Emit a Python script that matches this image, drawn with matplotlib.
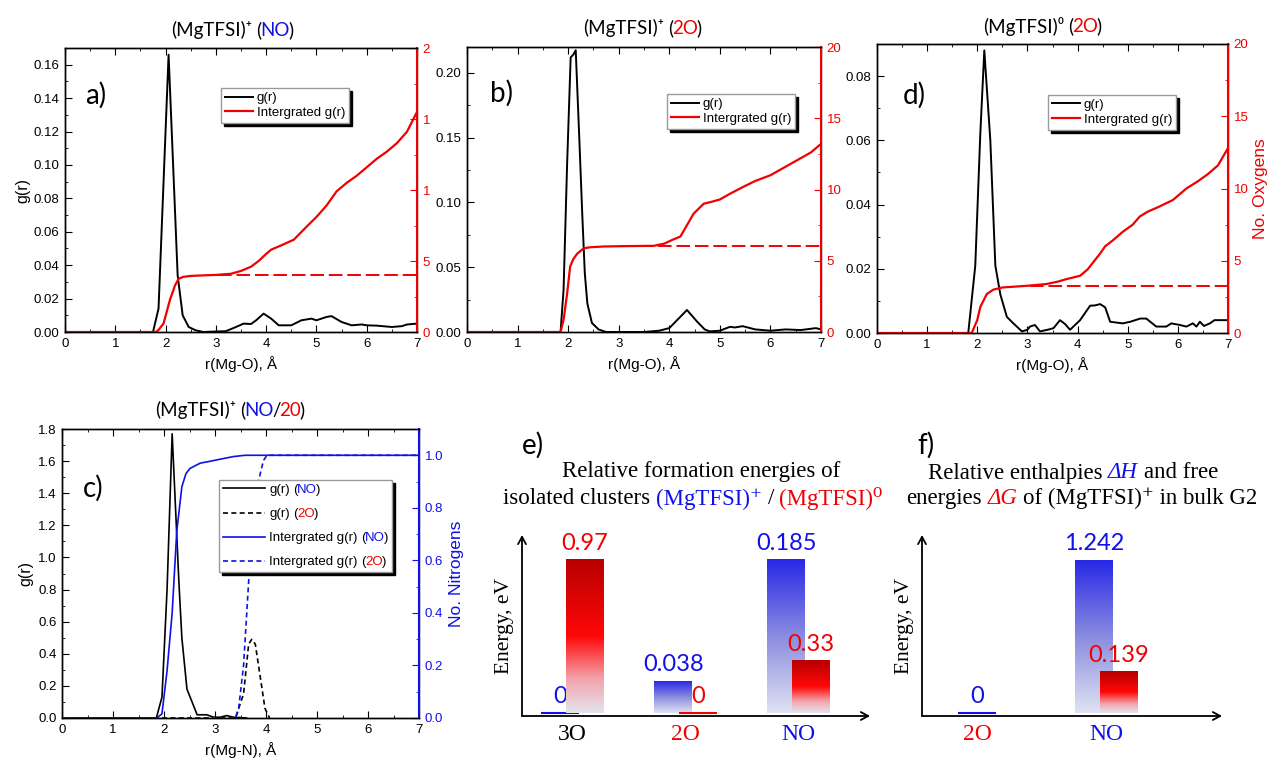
import numpy as np
import matplotlib.pyplot as plt
import matplotlib as mpl
from matplotlib.colors import LinearSegmentedColormap
from matplotlib.patches import Rectangle
from matplotlib.ticker import MultipleLocator, FormatStrFormatter
from matplotlib.offsetbox import TextArea, HPacker, AnnotationBbox

mpl.rcParams['font.family'] = 'Liberation Sans'
mpl.rcParams['font.size'] = 9.5
mpl.rcParams['axes.linewidth'] = 1.0

RED = '#f00000'
BLUE = '#1010e8'
SANS = ['Lato', 'DejaVu Sans']
SERIF = ['Liberation Serif', 'DejaVu Serif']

# a) (MgTFSI)+ (NO): Mg-O g(r) and running coordination number
a_r = [0, 1.75, 1.86, 2.06, 2.24, 2.34, 2.46, 2.6, 2.75, 3.0, 3.2, 3.4, 3.55, 3.7, 3.8, 3.95,
       4.1, 4.25, 4.5, 4.6, 4.7, 4.9, 5.0, 5.2, 5.3, 5.5, 5.7, 5.9, 6.0, 6.2, 6.5, 6.7, 6.8, 7.0]
a_g = [0, 0, 0.014, 0.166, 0.034, 0.010, 0.003, 0.001, 0.0, 0.0003, 0.0005, 0.003, 0.005, 0.0048,
       0.007, 0.011, 0.008, 0.004, 0.004, 0.0055, 0.007, 0.008, 0.007, 0.009, 0.0095, 0.006, 0.004,
       0.0045, 0.004, 0.0038, 0.003, 0.0035, 0.0045, 0.005]
a_rn = [0, 1.8, 1.85, 1.96, 2.09, 2.19, 2.26, 2.35, 2.5, 2.7, 3.0, 3.3, 3.5, 3.7, 3.85, 4.0, 4.1,
        4.3, 4.55, 4.8, 5.0, 5.2, 5.4, 5.6, 5.8, 6.0, 6.2, 6.4, 6.6, 6.8, 7.0]
a_n = [0, 0, 0.1, 0.6, 2.3, 3.3, 3.75, 3.88, 3.95, 3.98, 4.02, 4.1, 4.3, 4.6, 5.0, 5.5, 5.8,
       6.1, 6.5, 7.4, 8.1, 8.9, 9.9, 10.5, 11.0, 11.6, 12.2, 12.7, 13.3, 14.1, 15.5]
a_plateau = 4.0

# b) (MgTFSI)+ (2O)
b_r = [0, 1.85, 1.91, 1.98, 2.05, 2.1, 2.15, 2.22, 2.28, 2.33, 2.38, 2.47, 2.6, 2.75, 3.5, 3.8,
       4.0, 4.15, 4.35, 4.55, 4.7, 4.8, 5.0, 5.2, 5.3, 5.45, 5.7, 6.0, 6.3, 6.6, 6.9, 7.0]
b_g = [0, 0, 0.033, 0.13, 0.212, 0.214, 0.2175, 0.15, 0.09, 0.045, 0.022, 0.007, 0.002, 0.0, 0.0,
       0.001, 0.003, 0.009, 0.017, 0.008, 0.002, 0.0005, 0.001, 0.004, 0.0035, 0.0045, 0.002,
       0.001, 0.002, 0.0015, 0.003, 0.002]
b_rn = [0, 1.85, 1.91, 1.98, 2.04, 2.1, 2.18, 2.31, 2.45, 2.7, 3.0, 3.7, 3.9, 4.05, 4.22, 4.35,
        4.48, 4.68, 4.85, 5.0, 5.2, 5.47, 5.7, 6.0, 6.3, 6.6, 6.8, 7.0]
b_n = [0, 0, 0.86, 2.7, 4.6, 5.1, 5.5, 5.88, 5.95, 6.0, 6.02, 6.05, 6.2, 6.45, 6.7, 7.5, 8.3,
       9.0, 9.15, 9.3, 9.7, 10.2, 10.6, 11.0, 11.6, 12.2, 12.6, 13.2]
b_plateau = 6.07

# d) (MgTFSI)0 (2O)
d_r = [0, 1.82, 1.96, 2.06, 2.14, 2.26, 2.36, 2.46, 2.59, 2.72, 2.89, 3.0, 3.05, 3.15, 3.25, 3.4,
       3.52, 3.65, 3.75, 3.85, 4.05, 4.25, 4.35, 4.45, 4.55, 4.65, 4.9, 5.05, 5.25, 5.37, 5.57,
       5.77, 5.87, 6.04, 6.17, 6.3, 6.37, 6.44, 6.52, 6.64, 6.73, 7.0]
d_g = [0, 0, 0.021, 0.062, 0.088, 0.06, 0.021, 0.012, 0.005, 0.003, 0.0005, 0.001, 0.002, 0.0025,
       0.0005, 0.001, 0.0015, 0.004, 0.0028, 0.001, 0.004, 0.0085, 0.0086, 0.009, 0.008, 0.0035,
       0.003, 0.0035, 0.0045, 0.0045, 0.002, 0.002, 0.003, 0.0025, 0.002, 0.003, 0.002, 0.0035,
       0.0022, 0.003, 0.004, 0.004]
d_rn = [0, 1.89, 2.0, 2.06, 2.19, 2.32, 2.5, 3.0, 3.38, 3.6, 3.78, 4.05, 4.2, 4.3, 4.45, 4.55,
        4.7, 4.9, 5.1, 5.24, 5.4, 5.6, 5.9, 6.17, 6.4, 6.6, 6.8, 7.0]
d_n = [0, 0, 0.9, 1.8, 2.7, 3.0, 3.15, 3.27, 3.39, 3.55, 3.73, 3.96, 4.4, 4.84, 5.5, 6.0, 6.4,
       7.0, 7.5, 8.06, 8.4, 8.7, 9.2, 10.0, 10.5, 11.0, 11.6, 12.8]
d_plateau = 3.23

# c) (MgTFSI)+ Mg-N for the NO and 2O geometries
c_r_no = [0, 1.85, 1.96, 2.06, 2.16, 2.29, 2.35, 2.45, 2.55, 2.65, 2.84, 2.97, 3.1, 3.23, 3.36, 3.62]
c_g_no = [0, 0, 0.13, 0.8, 1.77, 0.86, 0.5, 0.18, 0.1, 0.02, 0.02, 0.005, 0.005, 0.015, 0.005, 0.0]
c_r_2o = [0, 3.4, 3.56, 3.66, 3.72, 3.79, 3.89, 3.98, 4.07]
c_g_2o = [0, 0, 0.15, 0.46, 0.49, 0.46, 0.25, 0.06, 0.0]
c_rn_no = [0, 1.86, 1.96, 2.06, 2.16, 2.25, 2.35, 2.43, 2.51, 2.71, 2.9, 3.1, 3.36, 3.59, 7.0]
c_n_no = [0, 0, 0.016, 0.18, 0.4, 0.71, 0.88, 0.93, 0.95, 0.97, 0.977, 0.985, 0.995, 1.0, 1.0]
c_rn_2o = [0, 3.4, 3.46, 3.56, 3.66, 3.76, 3.85, 3.95, 4.02, 7.0]
c_n_2o = [0, 0, 0.03, 0.2, 0.52, 0.78, 0.9, 0.98, 1.0, 1.0]

# e) isolated-cluster formation energies, eV
e_groups = ['3O', '2O', 'NO']
e_group_colors = ['black', RED, BLUE]
e_cation = [0, 0.038, 0.185]
e_neutral = [0.97, 0, 0.33]

# f) bulk G2 enthalpies / free energies, eV
f_groups = ['2O', 'NO']
f_group_colors = [RED, BLUE]
f_dH = [0, 1.242]
f_dG_groups = ['NO']
f_dG = [0.139]

W, H = 1269, 759
fig = plt.figure(figsize=(W / 100, H / 100), dpi=100)


def add_axes_px(left, top, right, bottom):
    return fig.add_axes([left / W, 1 - bottom / H, (right - left) / W, (bottom - top) / H])


def rich_text(words, size, family, sep=3.0, inner=-1.0):
    boxes = []
    for word in words:
        parts = []
        for piece in word:
            txt, col = piece[0], piece[1]
            style = piece[2] if len(piece) > 2 else 'normal'
            parts.append(TextArea(txt, textprops=dict(color=col, fontsize=size,
                                                      family=family, style=style)))
        if len(parts) == 1:
            boxes.append(parts[0])
        else:
            boxes.append(HPacker(children=parts, pad=0, sep=inner, align='baseline'))
    return HPacker(children=boxes, pad=0, sep=sep, align='baseline')


def put_rich(box, x, y):
    ab = AnnotationBbox(box, (x / W, 1 - y / H), xycoords='figure fraction',
                        frameon=False, box_alignment=(0.5, 0.5), pad=0)
    fig.add_artist(ab)


def rdf_axes(box, gmax, gstep, gfmt, nmax, nstep, nfmt, side_color, z=0):
    ax = add_axes_px(*box)
    ax2 = ax.twinx()
    ax.set_zorder(z)
    ax2.set_zorder(z)
    ax.set_xlim(0, 7)
    ax.set_ylim(0, gmax)
    ax.xaxis.set_major_locator(MultipleLocator(1))
    ax.xaxis.set_minor_locator(MultipleLocator(0.5))
    ax.yaxis.set_major_locator(MultipleLocator(gstep))
    ax.yaxis.set_minor_locator(MultipleLocator(gstep / 2))
    ax.yaxis.set_major_formatter(FormatStrFormatter(gfmt))
    ax.tick_params(which='both', direction='in', top=True, right=False, pad=4, labelsize=9.5)
    ax.tick_params(which='major', length=5)
    ax.tick_params(which='minor', length=2.5)
    ax2.set_ylim(0, nmax)
    ax2.yaxis.set_major_locator(MultipleLocator(nstep))
    ax2.yaxis.set_minor_locator(MultipleLocator(nstep / 2))
    ax2.yaxis.set_major_formatter(FormatStrFormatter(nfmt))
    ax2.tick_params(which='both', direction='in', colors=side_color, pad=4, labelsize=9.5)
    ax2.tick_params(which='major', length=5)
    ax2.tick_params(which='minor', length=2.5)
    ax2.spines['right'].set_color(side_color)
    ax2.spines['right'].set_linewidth(1.5)
    return ax, ax2


def legend_style():
    return dict(loc='upper left', borderaxespad=0, fancybox=False, framealpha=1,
                edgecolor='#9a9a9a', shadow={'color': 'black', 'alpha': 1},
                fontsize=9.5, handletextpad=0.3, borderpad=0.3)


def oxygen_panel(box, r, g, rn, n, plateau, gmax, gstep, letter, letter_xy, leg_xy, z=0):
    ax, ax2 = rdf_axes(box, gmax, gstep, '%.2f', 20, 5, '%d', RED, z)
    l1, = ax.plot(r, g, color='black', lw=1.4)
    l2, = ax2.plot(rn, n, color=RED, lw=1.6)
    ax2.plot([3.05, 7], [plateau, plateau], color=RED, lw=1.4, dashes=(7, 2.5))
    ax.set_xlabel('r(Mg-O), Å', fontsize=11, labelpad=5)
    ax.text(*letter_xy, letter, transform=ax.transAxes, fontsize=20, family=SANS, va='center')
    ax2.legend([l1, l2], ['g(r)', 'Intergrated g(r)'], bbox_to_anchor=leg_xy,
               handlelength=2.1, labelspacing=0.2, **legend_style())
    return ax, ax2


# --- RDF panels (a, b, d) ---
ax_a, ax_a2 = oxygen_panel((65, 48, 417, 332), a_r, a_g, a_rn, a_n, a_plateau, 0.17, 0.02,
                           'a)', (0.057, 0.835), (0.443, 0.859), z=0)
ax_a.set_ylabel('g(r)', fontsize=11.5, labelpad=2)

# white strip: panel b sits over the right-hand labels of panel a
fig.add_artist(Rectangle((430 / W, 1 - 345 / H), 36 / W, 315 / H, transform=fig.transFigure,
                         facecolor='white', edgecolor='none', zorder=0.5))

ax_b, ax_b2 = oxygen_panel((467, 47, 821, 332), b_r, b_g, b_rn, b_n, b_plateau, 0.22, 0.05,
                           'b)', (0.065, 0.839), (0.565, 0.835), z=1)

ax_d, ax_d2 = oxygen_panel((877, 44, 1228, 333), d_r, d_g, d_rn, d_n, d_plateau, 0.09, 0.02,
                           'd)', (0.074, 0.823), (0.487, 0.824), z=0)
ax_d2.set_ylabel('No. Oxygens', color=RED, fontsize=12.5, labelpad=3)

put_rich(rich_text([[('(MgTFSI)⁺', 'black')], [('(', 'black'), ('NO', BLUE), (')', 'black')]],
                   13.5, SANS), 232, 30)
put_rich(rich_text([[('(MgTFSI)⁺', 'black')], [('(', 'black'), ('2O', RED), (')', 'black')]],
                   13.5, SANS), 642, 28)
put_rich(rich_text([[('(MgTFSI)⁰', 'black')], [('(', 'black'), ('2O', RED), (')', 'black')]],
                   13.5, SANS), 1042, 26)

# --- c) Mg-N ---
ax_c, ax_c2 = rdf_axes((62, 429, 419, 718), 1.8, 0.2, '%.1f', 1.1, 0.2, '%.1f', BLUE)
h1, = ax_c.plot(c_r_no, c_g_no, color='black', lw=1.2)
h2, = ax_c.plot(c_r_2o, c_g_2o, color='black', lw=1.2, dashes=(3, 2))
h3, = ax_c2.plot(c_rn_no, c_n_no, color=BLUE, lw=1.2)
h4, = ax_c2.plot(c_rn_2o, c_n_2o, color=BLUE, lw=1.2, dashes=(3, 2))
ax_c.set_xlabel('r(Mg-N), Å', fontsize=11, labelpad=5)
ax_c.set_ylabel('g(r)', fontsize=11.5, labelpad=3)
ax_c2.set_ylabel('No. Nitrogens', color=BLUE, fontsize=12.5, labelpad=4)
ax_c.text(0.059, 0.796, 'c)', transform=ax_c.transAxes, fontsize=20, family=SANS, va='center')

c_bases = ['g(r)', 'g(r)', 'Intergrated g(r)', 'Intergrated g(r)']
c_tags = [('NO', BLUE), ('2O', RED), ('NO', BLUE), ('2O', RED)]
leg_c = ax_c2.legend([h1, h2, h3, h4], c_bases, bbox_to_anchor=(0.44, 0.824),
                     handlelength=3.2, labelspacing=0.9, **legend_style())
# swap each plain label for a two-colour one
handle_box = leg_c.get_children()[0].get_children()[1]
items = [it for col in handle_box.get_children() for it in col.get_children()]
for item, base, (tag, col) in zip(items, c_bases, c_tags):
    label = rich_text([[(base, 'black')], [('(', 'black'), (tag, col), (')', 'black')]],
                      9.5, 'Liberation Sans', sep=2.6, inner=-0.6)
    label.set_figure(fig)
    item.get_children()[1] = label

put_rich(rich_text([[('(MgTFSI)⁺', 'black')],
                    [('(', 'black'), ('NO', BLUE), ('/', 'black'), ('20', RED), (')', 'black')]],
                   13.5, SANS), 230, 410)

# --- e), f) schematic energy bars ---
GRAD = np.linspace(0, 1, 256).reshape(-1, 1)
red_cmap = LinearSegmentedColormap.from_list(
    'redbar', [(0, '#e4e4ee'), (0.22, '#f3a4ac'), (0.5, '#ff0808'), (1, '#b80000')])
blue_cmap = LinearSegmentedColormap.from_list(
    'bluebar', [(0, '#e0e3f1'), (0.5, '#8a8ce0'), (1, '#2828e6')])


def energy_axes(box):
    ax = add_axes_px(*box)
    ax2 = ax.twinx()
    for a in (ax, ax2):
        for s in a.spines.values():
            s.set_visible(False)
        a.tick_params(left=False, right=False, labelleft=False, labelright=False)
    arrow = dict(arrowstyle='->,head_length=0.55,head_width=0.3', lw=1.3, color='black',
                 shrinkA=0, shrinkB=0)
    ax.annotate('', xy=(1, 0), xytext=(0, 0), xycoords='axes fraction', arrowprops=arrow)
    ax.annotate('', xy=(0, 1), xytext=(0, 0), xycoords='axes fraction', arrowprops=arrow)
    ax.set_ylabel('Energy, eV', family=SERIF, fontsize=15.5, labelpad=6)
    return ax, ax2


def gradient_bars(ax, xs, vals, width, cmap, color):
    bars = ax.bar(xs, vals, width, color='none', edgecolor='none')
    for bar, v in zip(bars, vals):
        x0 = bar.get_x()
        x1 = x0 + bar.get_width()
        if v == 0:
            ax.hlines(0, x0, x1, color=color, lw=1.5)
        else:
            ax.imshow(GRAD, cmap=cmap, extent=(x0, x1, 0, v), origin='lower',
                      aspect='auto', interpolation='bilinear')
        ax.annotate(f'{v:g}', (x0 + bar.get_width() / 2, v), xytext=(0, 4.5),
                    textcoords='offset points', ha='center', va='bottom',
                    color=color, fontsize=17, family=SANS)


def category_ticks(ax, labels, colors):
    ax.set_xticks(range(len(labels)), labels)
    ax.tick_params(axis='x', length=0, pad=6, labelsize=17)
    for t, c in zip(ax.get_xticklabels(), colors):
        t.set_color(c)
        t.set_family(SERIF)


# e)
ax_e, ax_e2 = energy_axes((522, 535, 870, 716))
e_w, e_off = 0.336, 0.108
e_x = np.arange(len(e_groups))
gradient_bars(ax_e, e_x - e_off, e_cation, e_w, blue_cmap, BLUE)
gradient_bars(ax_e2, e_x + e_off, e_neutral, e_w, red_cmap, RED)
category_ticks(ax_e, e_groups, e_group_colors)
ax_e.set_xlim(-0.447, 2.633)
ax_e.set_ylim(-0.0036, 0.2152)
ax_e2.set_ylim(-0.019, 1.128)
fig.text(522 / W, 1 - 445 / H, 'e)', fontsize=20, family=SANS, va='center')
fig.text(701 / W, 1 - 472 / H, 'Relative formation energies of', fontsize=16.5,
         family=SERIF, ha='center', va='center')
put_rich(rich_text([[('isolated clusters', 'black')], [('(MgTFSI)⁺', BLUE)], [('/', 'black')],
                    [('(MgTFSI)⁰', RED)]], 16.5, SERIF, sep=4), 693, 498)

# f)
ax_f, ax_f2 = energy_axes((922, 535, 1222, 716))
f_w, f_off = 0.293, 0.093
f_x = np.arange(len(f_groups))
f_blue_x = [x - f_off if g in f_dG_groups else x for x, g in zip(f_x, f_groups)]
f_red_x = [f_groups.index(g) + f_off for g in f_dG_groups]
gradient_bars(ax_f, f_blue_x, f_dH, f_w, blue_cmap, BLUE)
gradient_bars(ax_f2, f_red_x, f_dG, f_w, red_cmap, RED)
category_ticks(ax_f, f_groups, f_group_colors)
ax_f.set_xlim(-0.425, 1.892)
ax_f.set_ylim(-0.0244, 1.445)
ax_f2.set_ylim(-0.0102, 0.603)
fig.text(917 / W, 1 - 445 / H, 'f)', fontsize=20, family=SANS, va='center')
put_rich(rich_text([[('Relative enthalpies', 'black')], [('ΔH', BLUE, 'italic')],
                    [('and free', 'black')]], 16.5, SERIF, sep=4), 1073, 473)
put_rich(rich_text([[('energies', 'black')], [('ΔG', RED, 'italic')],
                    [('of (MgTFSI)⁺ in bulk G2', 'black')]], 16.5, SERIF, sep=4), 1082, 498)

fig.savefig('out.png', dpi=100)
